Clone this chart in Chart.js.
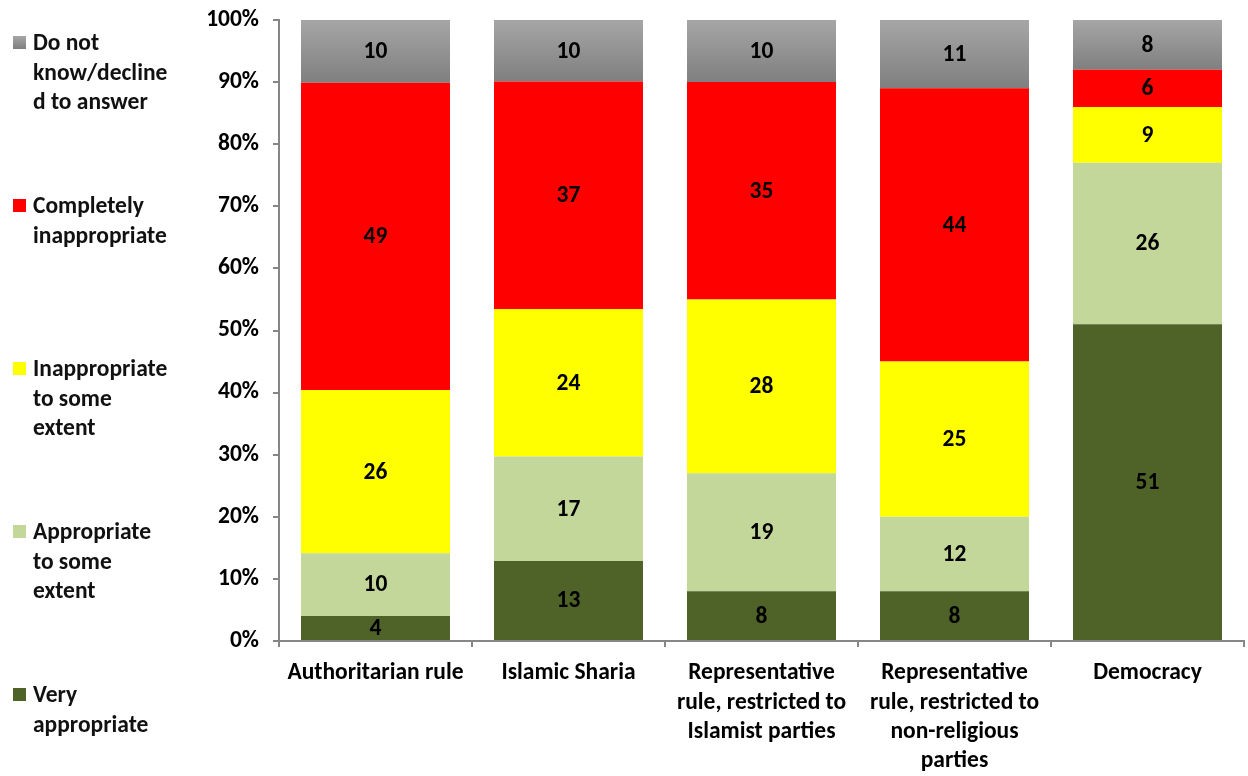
<!DOCTYPE html>
<html>
<head>
<meta charset="utf-8">
<script src="https://cdn.jsdelivr.net/npm/chart.js@4"></script>
<style>
  body { margin: 0; background: #fff; }
  #wrap { position: relative; width: 1248px; height: 776px; font-family: Carlito, Lato, "Open Sans", sans-serif; }
  #grafico { position: absolute; left: 0; top: 0; }
  .leg-item { position: absolute; left: 13px; font-weight: bold; font-size: 23.5px; line-height: 29.5px; color: #111; }
  .leg-box { position: absolute; left: 0; top: 8px; width: 13px; height: 13px; }
  .leg-text { margin-left: 20px; white-space: nowrap; }
</style>
</head>
<body>
<div id="wrap">
  <canvas id="grafico" width="1248" height="776"></canvas>
</div>
<script>
var categorias = [
    'Authoritarian rule',
    'Islamic Sharia',
    ['Representative', 'rule, restricted to', 'Islamist parties'],
    ['Representative', 'rule, restricted to', 'non-religious', 'parties'],
    'Democracy'
];

var muitoApropriado = [4, 13, 8, 8, 51];
var apropriadoAlgo = [10, 17, 19, 12, 26];
var inapropriadoAlgo = [26, 24, 28, 25, 9];
var completamenteInapropriado = [49, 37, 35, 44, 6];
var naoSabe = [10, 10, 10, 11, 8];

var ticksY = ['0%', '10%', '20%', '30%', '40%', '50%', '60%', '70%', '80%', '90%', '100%'];

var nomesSeries = [
    ['Very', 'appropriate'],
    ['Appropriate', 'to some', 'extent'],
    ['Inappropriate', 'to some', 'extent'],
    ['Completely', 'inappropriate'],
    ['Do not', 'know/decline', 'd to answer']
];
var valoresSeries = [muitoApropriado, apropriadoAlgo, inapropriadoAlgo, completamenteInapropriado, naoSabe];
var coresSeries = ['#4F6228', '#C4D79B', '#FFFF00', '#FF0000', 'gray'];

// totais por categoria para o empilhamento 100%
var totais = categorias.map(function(c, i) {
    return valoresSeries.reduce(function(s, serie) { return s + serie[i]; }, 0);
});

function percentual(serie) {
    return serie.map(function(v, i) { return v / totais[i] * 100; });
}

function corCinza(ctx) {
    var chart = ctx.chart;
    if (!chart.chartArea || ctx.dataIndex === undefined) return '#959595';
    var y = chart.scales.y;
    var topo = y.getPixelForValue(100);
    var base = y.getPixelForValue(100 - naoSabe[ctx.dataIndex] / totais[ctx.dataIndex] * 100);
    var g = chart.ctx.createLinearGradient(0, topo, 0, base);
    g.addColorStop(0, '#A6A6A6');
    g.addColorStop(1, '#7F7F7F');
    return g;
}

var datasets = valoresSeries.map(function(serie, k) {
    return {
        label: nomesSeries[k].join(' '),
        data: percentual(serie),
        valoresOriginais: serie,
        backgroundColor: coresSeries[k] === 'gray' ? corCinza : coresSeries[k],
        borderWidth: 0,
        barPercentage: 0.772,
        categoryPercentage: 1
    };
});

// legenda em HTML, do topo para baixo
var topos = [680, 517, 354, 191, 28];
for (var k = nomesSeries.length - 1; k >= 0; k--) {
    var item = document.createElement('div');
    item.className = 'leg-item';
    item.style.top = topos[k] + 'px';
    var box = document.createElement('div');
    box.className = 'leg-box';
    box.style.background = coresSeries[k] === 'gray' ? 'linear-gradient(#A6A6A6, #7F7F7F)' : coresSeries[k];
    var txt = document.createElement('div');
    txt.className = 'leg-text';
    txt.innerHTML = nomesSeries[k].join('<br>');
    item.appendChild(box);
    item.appendChild(txt);
    document.getElementById('wrap').appendChild(item);
}

var rotulosValores = {
    id: 'rotulosValores',
    afterDatasetsDraw: function(chart) {
        var ctx = chart.ctx;
        ctx.save();
        ctx.font = 'bold 23.5px Carlito, Lato, "Open Sans", sans-serif';
        ctx.fillStyle = '#000';
        ctx.textAlign = 'center';
        ctx.textBaseline = 'middle';
        chart.data.datasets.forEach(function(ds, i) {
            var meta = chart.getDatasetMeta(i);
            meta.data.forEach(function(bar, j) {
                var yc = (bar.y + bar.base) / 2;
                ctx.fillText(String(ds.valoresOriginais[j]), bar.x, yc + 1);
            });
        });
        ctx.restore();
    }
};

var eixoCor = '#868686';
var fonteEixo = { family: 'Carlito, Lato, "Open Sans", sans-serif', size: 23.5, weight: 'bold', lineHeight: 1.24 };

new Chart(document.getElementById('grafico').getContext('2d'), {
    type: 'bar',
    data: { labels: categorias, datasets: datasets },
    options: {
        responsive: false,
        animation: false,
        layout: { padding: { top: 20, right: 4, left: 0, bottom: 0 } },
        plugins: {
            legend: { display: false },
            tooltip: { enabled: false }
        },
        scales: {
            x: {
                stacked: true,
                grid: { drawOnChartArea: false, drawTicks: true, tickLength: 6, color: eixoCor, lineWidth: 2, offset: true },
                border: { display: true, color: eixoCor, width: 2 },
                ticks: { color: '#000', font: fonteEixo, padding: 12, maxRotation: 0, autoSkip: false },
                afterFit: function(s) { s.height = 135; s.paddingLeft = 0; s.paddingRight = 0; }
            },
            y: {
                stacked: true,
                min: 0,
                max: 100,
                grid: { drawOnChartArea: false, drawTicks: true, tickLength: 6, color: eixoCor, lineWidth: 2 },
                border: { display: true, color: eixoCor, width: 2 },
                ticks: {
                    stepSize: 10,
                    color: '#000',
                    font: fonteEixo,
                    padding: 14,
                    callback: function(v) { return ticksY[Math.round(v / 10)]; }
                },
                afterFit: function(s) { s.width = 279; s.paddingTop = 0; s.paddingBottom = 0; }
            }
        }
    },
    plugins: [rotulosValores]
});
</script>
</body>
</html>
